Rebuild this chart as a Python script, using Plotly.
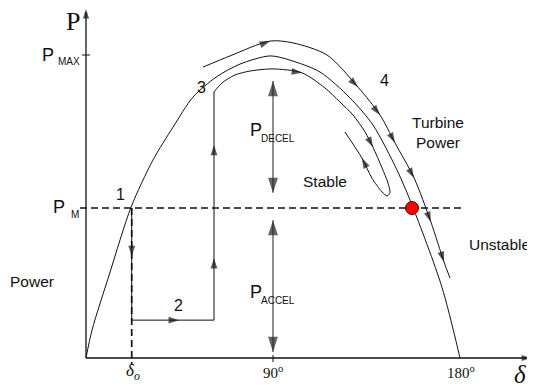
import plotly.graph_objects as go

# ---------------- data (delta in degrees, P in per-unit) ----------------
CURVE_DELTA = [0, 2.9, 11.6, 21.7, 32.2, 41.9, 51.5, 62.6, 74.1, 88.6, 98.2,
               112.6, 127.1, 138.1, 149.7, 156.9, 171.3, 180]
CURVE_P = [0, 0.092, 0.284, 0.498, 0.653, 0.762, 0.861, 0.927, 0.970, 0.997,
           0.983, 0.944, 0.858, 0.769, 0.620, 0.505, 0.234, 0]

OUTER_DELTA = [56.3, 69.3, 88.6, 99.6, 116.0, 130.9, 141.5, 148.7, 157.9,
               166.0, 172.3, 175.2]
OUTER_P = [0.960, 0.997, 1.046, 1.040, 1.000, 0.894, 0.802, 0.710, 0.594,
           0.449, 0.317, 0.264]
OUTER_ARROWS = [2, 5, 6, 7, 8, 9, 10]

INNER_DELTA = [61.6, 65.5, 71.7, 78.9, 90.0, 104.0, 115.0, 122.2, 128.5, 134.3,
               138.1, 142.5, 145.3, 146.3, 144.9, 142.5, 137.6, 132.8, 128.5, 124.6]
INNER_P = [0.878, 0.908, 0.934, 0.947, 0.954, 0.941, 0.891, 0.845, 0.802, 0.746,
           0.696, 0.627, 0.578, 0.545, 0.535, 0.548, 0.594, 0.660, 0.706, 0.746]
INNER_ARROWS = [5, 10, 17]

P_MAX = 1.0
P_M = 0.495
DELTA_O = 22.0
DELTA_CLEAR = 61.6
P_FAULT = 0.125
DELTA_UNSTABLE = 156.9

STEP_DELTA = [DELTA_O, DELTA_O, DELTA_CLEAR, DELTA_CLEAR]
STEP_P = [P_M, P_FAULT, P_FAULT, INNER_P[0]]
# (segment index, fraction along segment) for the arrow tips on the 1-2-3 path
STEP_ARROWS = [(0, 0.43), (1, 0.575), (2, 0.272), (2, 0.768)]

DECEL_RANGE = [0.914, 0.545]
ACCEL_RANGE = [0.455, 0.020]

X_AXIS_END = 214.2
Y_AXIS_END = 1.152

# ---------------- figure ----------------
# page body has an 8px margin; figure sized to fit the 535x388 window
W, H = 527, 380
XR = [-37.54, 216.10]
YR = [-0.0990, 1.1551]

INK = "#111111"
SANS = "Liberation Sans, Arial, sans-serif"
SERIF = "Liberation Serif, Times New Roman, serif"

fig = go.Figure()


def line(xs, ys, width=1.0, dash=None, color=INK, shape="linear"):
    fig.add_trace(go.Scatter(
        x=xs, y=ys, mode="lines", hoverinfo="skip",
        line=dict(color=color, width=width, dash=dash, shape=shape,
                  smoothing=0.8 if shape == "spline" else None)))


# axes
line([0, X_AXIS_END - 2], [0, 0], width=1.3)
line([0, 0], [0, Y_AXIS_END - 0.01], width=1.3)
# ticks
line([-1.9, 1.9], [P_MAX, P_MAX])
line([90, 90], [0.0099, -0.0132])

# P-delta curve and swing trajectories
line(CURVE_DELTA, CURVE_P, shape="spline")
line(OUTER_DELTA, OUTER_P, shape="spline")
line(INNER_DELTA, INNER_P, shape="spline")

# Pm and delta_o dashed lines
line([-2.9, 181.4], [P_M, P_M], width=1.7, dash="7px,4px")
line([DELTA_O, DELTA_O], [P_M, -0.023], width=1.7, dash="7px,4px")
# step path 1-2-3
line(STEP_DELTA, STEP_P)
# P_DECEL / P_ACCEL shafts
line([90, 90], DECEL_RANGE, width=1.1, color="#333333")
line([90, 90], ACCEL_RANGE, width=1.1, color="#333333")

# ---------------- arrowheads (markers oriented along travel) ----------------
ax_, ay_, as_, ac_ = [], [], [], []


def arrowhead(tail, head, size=10, color=INK):
    ax_.extend([tail[0], head[0]])
    ay_.extend([tail[1], head[1]])
    as_.extend([0, size])
    ac_.extend([color, color])


arrowhead((0, 0), (X_AXIS_END, 0), size=10)
arrowhead((0, 0), (0, Y_AXIS_END), size=10)

for xs, ys, idxs in [(OUTER_DELTA, OUTER_P, OUTER_ARROWS),
                     (INNER_DELTA, INNER_P, INNER_ARROWS)]:
    for i in idxs:
        x1, y1 = xs[i], ys[i]
        x0, y0 = xs[i - 1], ys[i - 1]
        f = 0.5
        arrowhead((x1 - f * (x1 - x0), y1 - f * (y1 - y0)), (x1, y1), size=11)

for seg, t in STEP_ARROWS:
    x0, y0 = STEP_DELTA[seg], STEP_P[seg]
    x1, y1 = STEP_DELTA[seg + 1], STEP_P[seg + 1]
    arrowhead((x0, y0), (x0 + t * (x1 - x0), y0 + t * (y1 - y0)), size=11)

for rng in (DECEL_RANGE, ACCEL_RANGE):
    mid = (rng[0] + rng[1]) / 2
    arrowhead((90, mid), (90, rng[0]), size=16, color="#222222")
    arrowhead((90, mid), (90, rng[1]), size=16, color="#222222")

fig.add_trace(go.Scatter(
    x=ax_, y=ay_, mode="markers", hoverinfo="skip",
    marker=dict(symbol="arrow", size=as_, color=ac_, angleref="previous",
                line=dict(width=0))))

# unstable equilibrium point
fig.add_trace(go.Scatter(x=[DELTA_UNSTABLE], y=[P_M], mode="markers",
                         hoverinfo="skip",
                         marker=dict(size=13, color="#ff0000",
                                     line=dict(color="#550000", width=1))))

# ---------------- texts ----------------
ann = []


def label(x, y, text, size=15, family=SANS, color=INK):
    ann.append(dict(x=x, y=y, xref="x", yref="y", text=text, showarrow=False,
                    font=dict(size=size, family=family, color=color),
                    xanchor="center", yanchor="middle"))


label(-6.3, 1.109, "P", size=26, family=SERIF)
label(-18.3, 1.0, "P", size=18)
label(-8.2, 0.977, "MAX", size=10)
label(-13.0, 0.498, "P", size=18)
label(-5.3, 0.472, "M", size=10)
label(16.4, 0.541, "1", size=16)
label(44.3, 0.172, "2", size=16)
label(55.8, 0.894, "3", size=16)
label(143.9, 0.917, "4", size=16)
label(169.4, 0.743, "Turbine<br>Power", size=15.5)
label(115.0, 0.581, "Stable", size=15.5)
label(198.8, 0.376, "Unstable", size=15.5)
label(-26.0, 0.251, "Power", size=15.5)
label(81.8, 0.752, "P", size=18)
label(92.4, 0.723, "DECEL", size=10)
label(81.8, 0.218, "P", size=18)
label(92.4, 0.191, "ACCEL", size=10)
label(22.6, -0.046, "<i>δ<sub>o</sub></i>", size=17, family=SERIF)
label(89.8, -0.046, "90<sup>o</sup>", size=15, family=SERIF)
label(180.5, -0.046, "180<sup>o</sup>", size=15, family=SERIF)
label(208.9, -0.056, "<i>δ</i>", size=25, family=SERIF)

fig.update_layout(
    width=W, height=H, autosize=False,
    margin=dict(l=0, r=0, t=0, b=0),
    paper_bgcolor="white", plot_bgcolor="white",
    showlegend=False,
    xaxis=dict(range=XR, visible=False, fixedrange=True),
    yaxis=dict(range=YR, visible=False, fixedrange=True),
    annotations=ann,
)

fig.write_html("out.html")
